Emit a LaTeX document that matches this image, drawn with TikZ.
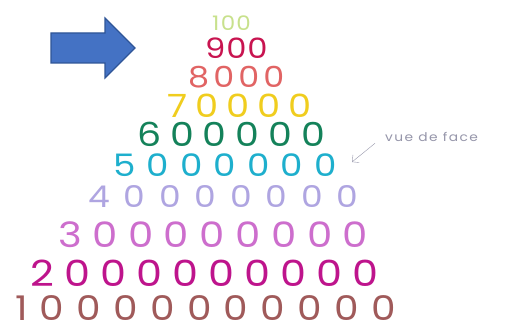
\documentclass[tikz,border=0pt]{standalone}
\usepackage{fontspec}
\setmainfont{Poppins}
\usetikzlibrary{arrows.meta}
\newfontfamily\handfont{Poppins}[FakeStretch=1.15]
\newcommand\rowfont[2]{\handfont\fontsize{#1}{#1}\selectfont\addfontfeature{LetterSpace=#2}}
\definecolor{arrowblue}{RGB}{68,114,196}
\definecolor{arrowedge}{RGB}{47,85,151}
\definecolor{notegrey}{RGB}{150,150,170}
\definecolor{rowa}{RGB}{200,225,140}
\definecolor{rowb}{RGB}{200,20,80}
\definecolor{rowc}{RGB}{225,100,100}
\definecolor{rowd}{RGB}{240,205,30}
\definecolor{rowe}{RGB}{20,130,90}
\definecolor{rowf}{RGB}{30,175,205}
\definecolor{rowg}{RGB}{175,165,225}
\definecolor{rowh}{RGB}{205,110,205}
\definecolor{rowi}{RGB}{190,20,140}
\definecolor{rowj}{RGB}{160,90,90}

\begin{document}
\begin{tikzpicture}[x=1pt, y=-1pt,
  digits/.style={anchor=base west, inner sep=0pt, text depth=0pt},
  note/.style={anchor=base west, inner sep=0pt, text=notegrey,
    font=\handfont\fontsize{12}{12}\selectfont\addfontfeature{LetterSpace=12}},
  pointer/.style={draw=arrowedge, fill=arrowblue, line width=1.2pt}
]
  \useasboundingbox[fill=white] (0,0) rectangle (506,329);

  % blue arrow
  \draw[pointer] (51,33) -- (105,33) -- (105,18) -- (135,48)
    -- (105,78) -- (105,63) -- (51,63) -- cycle;

  % the rows, top to bottom
  \node[digits, text=rowa, font={\rowfont{20}{6}}]  (r1)  at (212,31)  {100};
  \node[digits, text=rowb, font={\rowfont{28}{3}}]  (r2)  at (205,59)  {900};
  \node[digits, text=rowc, font={\rowfont{29}{14}}] (r3)  at (188,88)  {8000};
  \node[digits, text=rowd, font={\rowfont{32}{25}}] (r4)  at (167,117) {70000};
  \node[digits, text=rowe, font={\rowfont{33}{27}}] (r5)  at (137,146) {600000};
  \node[digits, text=rowf, font={\rowfont{31}{36}}] (r6)  at (113,176) {5000000};
  \node[digits, text=rowg, font={\rowfont{30}{46}}] (r7)  at (88,207)  {40000000};
  \node[digits, text=rowh, font={\rowfont{35}{30}}] (r8)  at (58,247)  {300000000};
  \node[digits, text=rowi, font={\rowfont{36}{28}}] (r9)  at (30,286)  {2000000000};
  \node[digits, text=rowj, font={\rowfont{34}{36}}] (r10) at (15,320)  {10000000000};

  % side note
  \node[note] (side) at (385,141) {vue de face};
  \coordinate (tip) at (352,162);
  \draw[-{Straight Barb[length=5pt]}, notegrey, thin]
    ([xshift=-10pt,yshift=-2pt]side.south west) -- (tip);
\end{tikzpicture}
\end{document}
